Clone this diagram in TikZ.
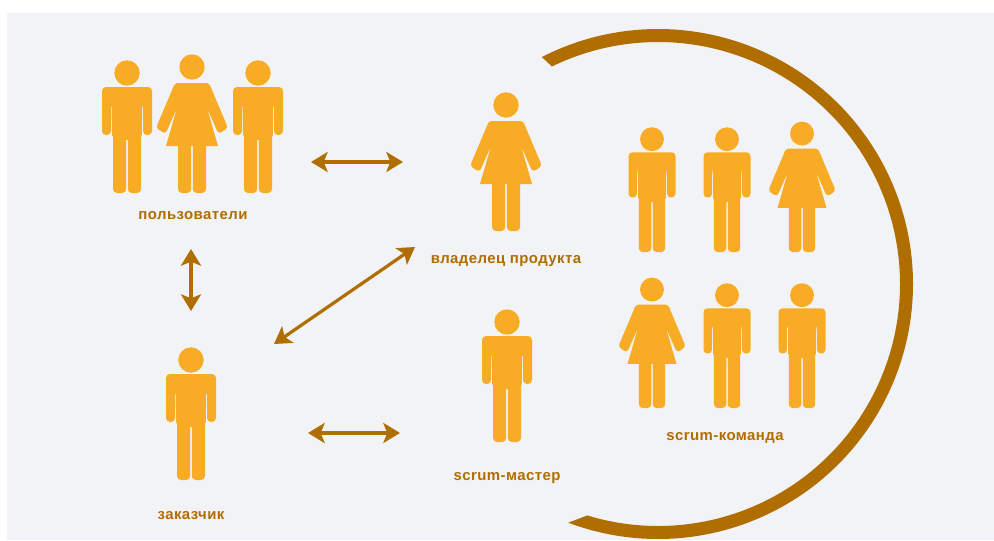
\documentclass[tikz,border=0pt]{standalone}
\usepackage{fontspec}
\setmainfont{Liberation Sans}
\usetikzlibrary{arrows.meta}
\definecolor{panel}{HTML}{F1F3F7}
\definecolor{figfill}{HTML}{F8AB25}
\definecolor{brown}{HTML}{B06E00}
\tikzset{
  x=0.75pt,y=-0.75pt,
  lab/.style={text=brown,font=\fontsize{11.2pt}{12pt}\selectfont\bfseries\addfontfeature{LetterSpace=3},inner sep=0pt,anchor=center},
  arrowline/.style={draw=brown,line width=2.5pt,{Stealth[length=12.5pt,width=15pt,inset=3pt]}-{Stealth[length=12.5pt,width=15pt,inset=3pt]}},
  man/.pic={
    \fill[figfill] (0,-120) circle (12.7);
    \fill[figfill,rounded corners=3pt*#1] (-25,-106) -- (25,-106) -- (25,-58) -- (16,-58) [sharp corners] -- (16,-86) -- (15.2,-86) -- (14.8,-58) -- (14,-56) [rounded corners=3pt*#1] -- (14,0) -- (0.8,0) [sharp corners] -- (0.8,-53) -- (-0.8,-53) [rounded corners=3pt*#1] -- (-0.8,0) -- (-14,0) [sharp corners] -- (-14,-56) -- (-14.8,-58) -- (-15.2,-86) -- (-16,-86) [rounded corners=3pt*#1] -- (-16,-58) -- (-25,-58) -- cycle;
  },
  woman/.pic={
    \fill[figfill] (0,-126) circle (12.7);
    \fill[figfill,rounded corners=1.5pt] (-6,-110) -- (17,-110) [rounded corners=2.5pt] -- (36,-65) -- (26.5,-59) [sharp corners] -- (15,-85) -- (26,-47) -- (-26,-47) -- (-15,-85) [rounded corners=2.5pt] -- (-26.5,-59) -- (-36,-65) [rounded corners=1.5pt] -- (-17,-110) -- cycle;
    \fill[figfill,rounded corners=3pt*#1] (-14,-60) -- (-0.8,-60) -- (-0.8,0) -- (-14,0) -- cycle;
    \fill[figfill,rounded corners=3pt*#1] (0.8,-60) -- (14,-60) -- (14,0) -- (0.8,0) -- cycle;
  },
}
\begin{document}
\begin{tikzpicture}
\useasboundingbox (0,0) rectangle (994,540);
\fill[white] (0,0) rectangle (994,540);
\fill[panel] (7,13) rectangle (994,540);
% ring
\fill[brown] plot[domain=-117.1:110.6,samples=160,smooth] ({658+255*cos(\x)},{284+255*sin(\x)})
  -- plot[domain=107:-116,samples=160,smooth] ({658+242*cos(\x)},{284+242*sin(\x)}) -- cycle;
% figures
\pic at (127,193) {man=1};
\pic at (192,193) {woman=1};
\pic at (258,193) {man=1};
\pic at (506,231) {woman=1};
\pic at (191,480) {man=1};
\pic at (507,442) {man=1};
\pic[scale=.94] at (652,252) {man=.94};
\pic[scale=.94] at (727,252) {man=.94};
\pic[scale=.94] at (802,252) {woman=.94};
\pic[scale=.94] at (652,408) {woman=.94};
\pic[scale=.94] at (727,408) {man=.94};
\pic[scale=.94] at (802,408) {man=.94};
% labels
\node[lab] (users) at (193,216) {пользователи};
\node[lab] (owner) at (506,261) {владелец продукта};
\node[lab] (customer) at (191,515.5) {заказчик};
\node[lab] (master) at (507,478) {scrum-мастер};
\node[lab] (team) at (725,438) {scrum-команда};
% arrow ends
\coordinate (a1) at (311,162); \coordinate (a2) at (403,162);
\coordinate (b1) at (191,249); \coordinate (b2) at (191,311);
\coordinate (c1) at (274,344); \coordinate (c2) at (415,247);
\coordinate (d1) at (308,433); \coordinate (d2) at (400,433);
\draw[arrowline] (a1) -- (a2);
\draw[arrowline] (b1) -- (b2);
\draw[arrowline,line width=2.4pt] (c1) -- (c2);
\draw[arrowline] (d1) -- (d2);
\end{tikzpicture}
\end{document}
